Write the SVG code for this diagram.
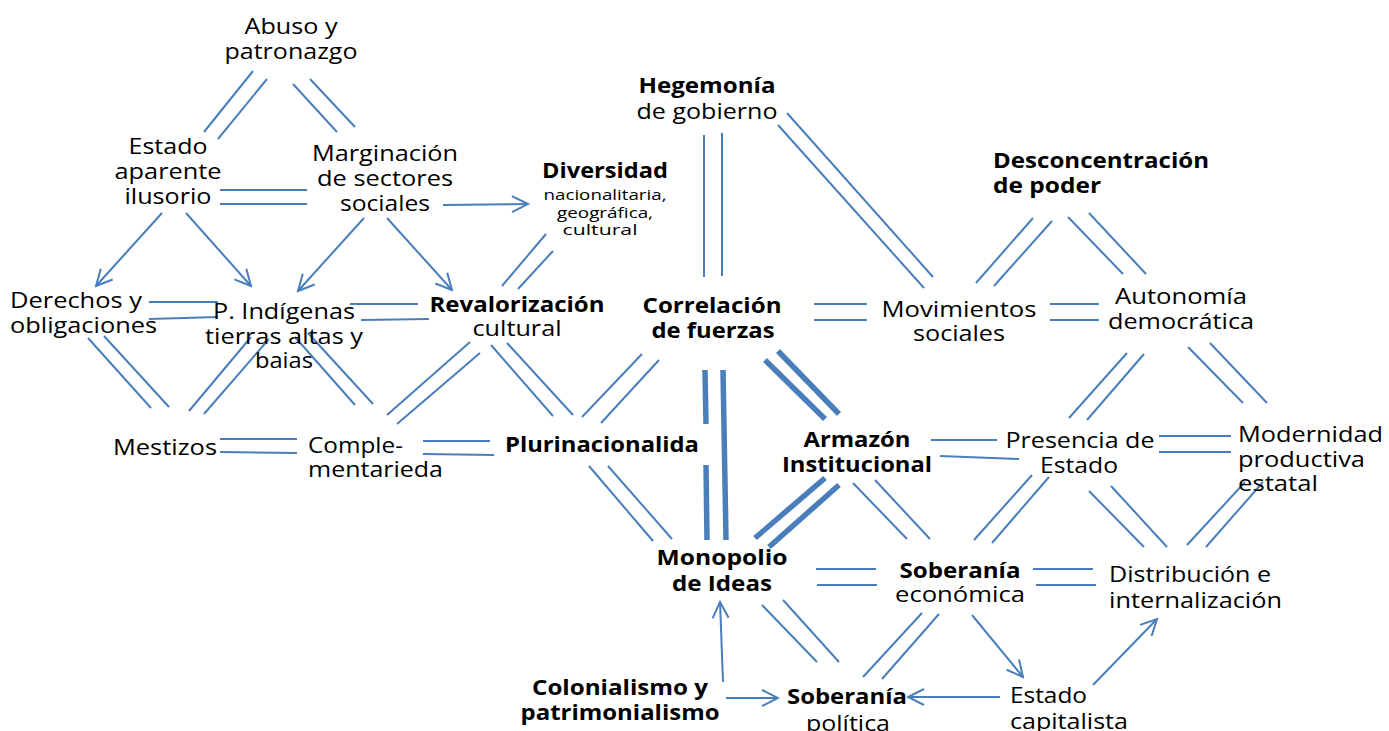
<svg xmlns="http://www.w3.org/2000/svg" width="1389" height="731" viewBox="0 0 1389 731">
<style>
text{font-family:"Open Sans","Liberation Sans",sans-serif;font-size:22px;fill:#000}
.m{text-anchor:middle}
.b{font-weight:bold}
.s{font-size:15px}
.c line{stroke:#4a7ebb;stroke-width:2;fill:none}
.c .k{stroke-width:5.5}
.c .a{marker-end:url(#ah)}
</style>
<defs>
<marker id="ah" markerUnits="userSpaceOnUse" markerWidth="20" markerHeight="20" viewBox="0 0 20 20" refX="18" refY="10" orient="auto">
<path d="M2,2 L18,10 L2,18" fill="none" stroke="#4a7ebb" stroke-width="2"/>
</marker>
</defs>
<rect width="1389" height="731" fill="#fff"/>
<g class="c" id="connectors">
<line x1="253" y1="71" x2="204" y2="132"/><line x1="267" y1="79" x2="218" y2="139"/>
<line x1="293" y1="84" x2="337" y2="132"/><line x1="310" y1="79" x2="355" y2="127"/>
<line x1="220" y1="190" x2="307" y2="190"/><line x1="220" y1="204" x2="307" y2="204"/>
<line x1="149" y1="302" x2="218" y2="302"/><line x1="149" y1="319" x2="218" y2="317"/>
<line x1="350" y1="304" x2="418" y2="304"/><line x1="361" y1="320" x2="429" y2="319"/>
<line x1="88" y1="338" x2="151" y2="408"/><line x1="104" y1="336" x2="169" y2="407"/>
<line x1="189" y1="411" x2="251" y2="337"/><line x1="204" y1="414" x2="269" y2="339"/>
<line x1="295" y1="337" x2="355" y2="405"/><line x1="308" y1="333" x2="373" y2="404"/>
<line x1="387" y1="415" x2="470" y2="342"/><line x1="397" y1="424" x2="480" y2="353"/>
<line x1="220" y1="439" x2="297" y2="439"/><line x1="220" y1="452" x2="297" y2="453"/>
<line x1="423" y1="441" x2="490" y2="441"/><line x1="423" y1="454" x2="494" y2="455"/>
<line x1="546" y1="234" x2="502" y2="286"/><line x1="553" y1="251" x2="518" y2="289"/>
<line x1="491" y1="345" x2="553" y2="416"/><line x1="507" y1="343" x2="573" y2="415"/>
<line x1="582" y1="417" x2="642" y2="354"/><line x1="601" y1="423" x2="659" y2="360"/>
<line x1="704" y1="135" x2="704" y2="277"/><line x1="722" y1="133" x2="722" y2="276"/>
<line x1="787" y1="113" x2="933" y2="277"/><line x1="778" y1="125" x2="924" y2="288"/>
<line x1="814" y1="304" x2="867" y2="304"/><line x1="814" y1="320" x2="867" y2="320"/>
<line x1="1050" y1="304" x2="1099" y2="304"/><line x1="1050" y1="320" x2="1099" y2="320"/>
<line x1="1033" y1="218" x2="976" y2="283"/><line x1="1052" y1="221" x2="994" y2="286"/>
<line x1="1068" y1="217" x2="1123" y2="274"/><line x1="1089" y1="213" x2="1146" y2="274"/>
<line x1="1127" y1="353" x2="1069" y2="418"/><line x1="1144" y1="354" x2="1087" y2="420"/>
<line x1="1188" y1="347" x2="1243" y2="403"/><line x1="1210" y1="343" x2="1267" y2="403"/>
<line x1="931" y1="440" x2="997" y2="440"/><line x1="940" y1="456" x2="1019" y2="459"/>
<line x1="1159" y1="436" x2="1231" y2="436"/><line x1="1159" y1="452" x2="1231" y2="452"/>
<line x1="1032" y1="475" x2="974" y2="540"/><line x1="1049" y1="477" x2="992" y2="543"/>
<line x1="1089" y1="491" x2="1144" y2="547"/><line x1="1111" y1="486" x2="1167" y2="547"/>
<line x1="1187" y1="545" x2="1245" y2="482"/><line x1="1206" y1="547" x2="1263" y2="482"/>
<line x1="853" y1="483" x2="907" y2="539"/><line x1="875" y1="480" x2="930" y2="539"/>
<line x1="589" y1="466" x2="653" y2="541"/><line x1="608" y1="466" x2="672" y2="539"/>
<line x1="816" y1="569" x2="876" y2="569"/><line x1="817" y1="585" x2="877" y2="585"/>
<line x1="1033" y1="569" x2="1093" y2="569"/><line x1="1036" y1="585" x2="1096" y2="585"/>
<line x1="762" y1="605" x2="817" y2="662"/><line x1="783" y1="600" x2="839" y2="662"/>
<line x1="922" y1="613" x2="863" y2="677"/><line x1="939" y1="614" x2="882" y2="679"/>
<line class="k" x1="705" y1="370" x2="706" y2="424"/><line class="k" x1="706" y1="465" x2="707" y2="540"/><line class="k" x1="723" y1="370" x2="726" y2="540"/>
<line class="k" x1="765" y1="360" x2="825" y2="419"/><line class="k" x1="778" y1="351" x2="839" y2="414"/>
<line class="k" x1="825" y1="478" x2="755" y2="538"/><line class="k" x1="839" y1="485" x2="769" y2="547"/>
<line class="a" x1="162" y1="213" x2="96" y2="286"/>
<line class="a" x1="186" y1="213" x2="251" y2="286"/>
<line class="a" x1="364" y1="218" x2="298" y2="291"/>
<line class="a" x1="387" y1="218" x2="452" y2="290"/>
<line class="a" x1="443" y1="205" x2="528" y2="204"/>
<line class="a" x1="723" y1="682" x2="720" y2="602"/>
<line class="a" x1="726" y1="698" x2="778" y2="698"/>
<line class="a" x1="1000" y1="697" x2="908" y2="697"/>
<line class="a" x1="972" y1="615" x2="1023" y2="677"/>
<line class="a" x1="1093" y1="685" x2="1157" y2="619"/>
</g>
<g id="abuso"><text class="m" x="291" y="34" textLength="93" lengthAdjust="spacingAndGlyphs">Abuso y</text><text class="m" x="291" y="59" textLength="133" lengthAdjust="spacingAndGlyphs">patronazgo</text></g>
<g id="estado-aparente"><text class="m" x="168" y="154" textLength="79" lengthAdjust="spacingAndGlyphs">Estado</text><text class="m" x="168" y="179" textLength="107" lengthAdjust="spacingAndGlyphs">aparente</text><text class="m" x="168" y="204" textLength="87" lengthAdjust="spacingAndGlyphs">ilusorio</text></g>
<g id="marginacion"><text class="m" x="385" y="161" textLength="146" lengthAdjust="spacingAndGlyphs">Marginación</text><text class="m" x="385" y="186" textLength="136" lengthAdjust="spacingAndGlyphs">de sectores</text><text class="m" x="385" y="211" textLength="90" lengthAdjust="spacingAndGlyphs">sociales</text></g>
<g id="diversidad"><text class="m b" x="605" y="178" textLength="126" lengthAdjust="spacingAndGlyphs">Diversidad</text><text class="m s" x="605" y="200" textLength="123" lengthAdjust="spacingAndGlyphs">nacionalitaria,</text><text class="m s" x="605" y="218" textLength="96" lengthAdjust="spacingAndGlyphs">geográfica,</text><text class="m s" x="600" y="235" textLength="75" lengthAdjust="spacingAndGlyphs">cultural</text></g>
<g id="derechos"><text x="10" y="308" textLength="132" lengthAdjust="spacingAndGlyphs">Derechos y</text><text x="10" y="333" textLength="147" lengthAdjust="spacingAndGlyphs">obligaciones</text></g>
<g id="indigenas"><text class="m" x="284" y="319" textLength="142" lengthAdjust="spacingAndGlyphs">P. Indígenas</text><text class="m" x="284" y="344" textLength="158" lengthAdjust="spacingAndGlyphs">tierras altas y</text><text class="m" x="284" y="368" textLength="58" lengthAdjust="spacingAndGlyphs">baias</text></g>
<g id="revalorizacion"><text class="m b" x="517" y="312" textLength="175" lengthAdjust="spacingAndGlyphs">Revalorización</text><text class="m" x="517" y="336" textLength="89" lengthAdjust="spacingAndGlyphs">cultural</text></g>
<g id="mestizos"><text class="m" x="165" y="455" textLength="104" lengthAdjust="spacingAndGlyphs">Mestizos</text></g>
<g id="complementariedad"><text x="308" y="453" textLength="95" lengthAdjust="spacingAndGlyphs">Comple-</text><text x="308" y="477" textLength="135" lengthAdjust="spacingAndGlyphs">mentarieda</text></g>
<g id="plurinacionalidad"><text class="m b" x="602" y="452" textLength="194" lengthAdjust="spacingAndGlyphs">Plurinacionalida</text></g>
<g id="hegemonia"><text class="m b" x="707" y="93" textLength="137" lengthAdjust="spacingAndGlyphs">Hegemonía</text><text class="m" x="707" y="119" textLength="141" lengthAdjust="spacingAndGlyphs">de gobierno</text></g>
<g id="correlacion"><text class="m b" x="712" y="313" textLength="139" lengthAdjust="spacingAndGlyphs">Correlación</text><text class="m b" x="713" y="338" textLength="123" lengthAdjust="spacingAndGlyphs">de fuerzas</text></g>
<g id="movimientos"><text class="m" x="959" y="317" textLength="155" lengthAdjust="spacingAndGlyphs">Movimientos</text><text class="m" x="959" y="341" textLength="92" lengthAdjust="spacingAndGlyphs">sociales</text></g>
<g id="desconcentracion"><text class="b" x="993" y="168" textLength="216" lengthAdjust="spacingAndGlyphs">Desconcentración</text><text class="b" x="993" y="193" textLength="108" lengthAdjust="spacingAndGlyphs">de poder</text></g>
<g id="autonomia"><text class="m" x="1181" y="304" textLength="132" lengthAdjust="spacingAndGlyphs">Autonomía</text><text class="m" x="1181" y="329" textLength="146" lengthAdjust="spacingAndGlyphs">democrática</text></g>
<g id="armazon"><text class="m b" x="857" y="447" textLength="107" lengthAdjust="spacingAndGlyphs">Armazón</text><text class="m b" x="857" y="472" textLength="150" lengthAdjust="spacingAndGlyphs">Institucional</text></g>
<g id="presencia"><text class="m" x="1080" y="448" textLength="149" lengthAdjust="spacingAndGlyphs">Presencia de</text><text class="m" x="1079" y="473" textLength="78" lengthAdjust="spacingAndGlyphs">Estado</text></g>
<g id="modernidad"><text x="1238" y="442" textLength="145" lengthAdjust="spacingAndGlyphs">Modernidad</text><text x="1238" y="467" textLength="127" lengthAdjust="spacingAndGlyphs">productiva</text><text x="1238" y="491" textLength="80" lengthAdjust="spacingAndGlyphs">estatal</text></g>
<g id="monopolio"><text class="m b" x="722" y="565" textLength="131" lengthAdjust="spacingAndGlyphs">Monopolio</text><text class="m b" x="722" y="591" textLength="100" lengthAdjust="spacingAndGlyphs">de Ideas</text></g>
<g id="soberania-economica"><text class="m b" x="960" y="578" textLength="121" lengthAdjust="spacingAndGlyphs">Soberanía</text><text class="m" x="960" y="602" textLength="130" lengthAdjust="spacingAndGlyphs">económica</text></g>
<g id="distribucion"><text x="1109" y="582" textLength="162" lengthAdjust="spacingAndGlyphs">Distribución e</text><text x="1109" y="608" textLength="173" lengthAdjust="spacingAndGlyphs">internalización</text></g>
<g id="colonialismo"><text class="m b" x="620" y="695" textLength="176" lengthAdjust="spacingAndGlyphs">Colonialismo y</text><text class="m b" x="620" y="720" textLength="199" lengthAdjust="spacingAndGlyphs">patrimonialismo</text></g>
<g id="soberania-politica"><text class="m b" x="847" y="704" textLength="120" lengthAdjust="spacingAndGlyphs">Soberanía</text><text class="m" x="848" y="731" textLength="84" lengthAdjust="spacingAndGlyphs">política</text></g>
<g id="estado-capitalista"><text x="1010" y="703" textLength="77" lengthAdjust="spacingAndGlyphs">Estado</text><text x="1010" y="729" textLength="118" lengthAdjust="spacingAndGlyphs">capitalista</text></g>
</svg>
